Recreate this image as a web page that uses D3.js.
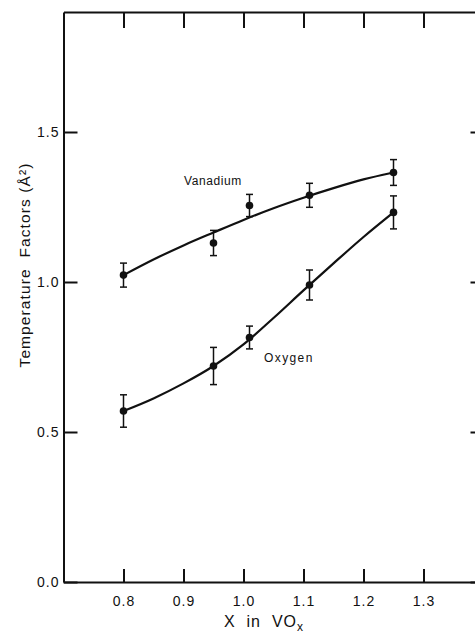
<!DOCTYPE html>
<html>
<head>
<meta charset="utf-8">
<script src="https://cdn.jsdelivr.net/npm/d3@7"></script>
<style>
  html, body { margin: 0; padding: 0; background: #fff; }
  svg { display: block; }
  text { font-family: "Liberation Sans", Arial, sans-serif; fill: #111; white-space: pre; }
</style>
</head>
<body>
<svg id="chart" width="475" height="639"></svg>
<script>
// Composition x in VOx for each measurement
const compositions = [0.80, 0.95, 1.01, 1.11, 1.25];
// Temperature factors (Å²) and their error half-widths
const vanadium    = [1.023, 1.130, 1.255, 1.289, 1.365];
const vanadiumErr = [0.040, 0.042, 0.037, 0.040, 0.043];
const oxygen      = [0.570, 0.720, 0.815, 0.990, 1.232];
const oxygenErr   = [0.054, 0.062, 0.038, 0.050, 0.055];

// Smooth fitted curves through the data
const fitX        = [0.80, 0.85, 0.90, 0.95, 1.00, 1.05, 1.10, 1.15, 1.20, 1.25];
const vanadiumFit = [1.023, 1.075, 1.122, 1.165, 1.207, 1.246, 1.281, 1.313, 1.342, 1.365];
const oxygenFit   = [0.570, 0.612, 0.662, 0.720, 0.792, 0.880, 0.972, 1.062, 1.150, 1.232];

// Axis ticks
const xTicks = [0.8, 0.9, 1.0, 1.1, 1.2, 1.3];
const xTickLabels = ["0.8", "0.9", "1.0", "1.1", "1.2", "1.3"];
const yTicks = [0.0, 0.5, 1.0, 1.5];
const yTickLabels = ["0.0", "0.5", "1.0", "1.5"];

const svg = d3.select("#chart");

const x = d3.scaleLinear().domain([0.7, 1.4]).range([63.5, 483.5]);
const y = d3.scaleLinear().domain([0, 1.9]).range([582, 12]);

const axisStroke = 2;

// Bottom axis with inward ticks
const gx = svg.append("g").attr("transform", `translate(0,${y(0)})`)
  .call(d3.axisBottom(x).tickValues(xTicks)
    .tickFormat((d, i) => xTickLabels[i])
    .tickSizeInner(-13).tickSizeOuter(0).tickPadding(14));
// Top axis, ticks only
const gxt = svg.append("g").attr("transform", `translate(0,${y(1.9)})`)
  .call(d3.axisTop(x).tickValues(xTicks).tickFormat("")
    .tickSizeInner(-16).tickSizeOuter(0));
// Left axis
const gy = svg.append("g").attr("transform", `translate(${x(0.7)},0)`)
  .call(d3.axisLeft(y).tickValues(yTicks)
    .tickFormat((d, i) => yTickLabels[i])
    .tickSizeInner(-14).tickSizeOuter(0).tickPadding(4));
// Right axis, ticks only
const gyr = svg.append("g").attr("transform", `translate(${x(1.4)},0)`)
  .call(d3.axisRight(y).tickValues(yTicks).tickFormat("")
    .tickSizeInner(-13).tickSizeOuter(0));

[gx, gxt, gy, gyr].forEach(g => {
  g.select(".domain").attr("stroke", "#111").attr("stroke-width", axisStroke);
  g.selectAll(".tick line").attr("stroke", "#111").attr("stroke-width", 2);
  g.selectAll(".tick text")
    .style("font-family", "'Liberation Sans', Arial, sans-serif")
    .style("font-size", "14px").style("letter-spacing", "1px")
    .attr("fill", "#111");
});

// Axis titles
const xt = svg.append("text")
  .attr("x", 264).attr("y", 627)
  .attr("text-anchor", "middle")
  .style("font-size", "16px").style("letter-spacing", "1px");
xt.append("tspan").text("X  in  VO");
xt.append("tspan").attr("dy", 4).style("font-size", "12px").text("x");

svg.append("text")
  .attr("transform", "translate(30,265) rotate(-90)")
  .attr("text-anchor", "middle")
  .style("font-size", "15.5px").style("letter-spacing", "1.1px")
  .text("Temperature  Factors (Å²)");

// Fitted curves
const line = d3.line()
  .x(d => x(d[0])).y(d => y(d[1]))
  .curve(d3.curveMonotoneX);

[vanadiumFit, oxygenFit].forEach(fit => {
  svg.append("path")
    .datum(fitX.map((v, i) => [v, fit[i]]))
    .attr("d", line)
    .attr("fill", "none").attr("stroke", "#111").attr("stroke-width", 2.2);
});

// Error bars and points
function drawSeries(values, errs) {
  const data = compositions.map((c, i) => ({ c, v: values[i], e: errs[i] }));
  const g = svg.append("g");
  const cap = 3.5;
  g.selectAll(".eb").data(data).enter().append("line")
    .attr("x1", d => x(d.c)).attr("x2", d => x(d.c))
    .attr("y1", d => y(d.v + d.e)).attr("y2", d => y(d.v - d.e))
    .attr("stroke", "#111").attr("stroke-width", 1.5);
  g.selectAll(".capt").data(data).enter().append("line")
    .attr("x1", d => x(d.c) - cap).attr("x2", d => x(d.c) + cap)
    .attr("y1", d => y(d.v + d.e)).attr("y2", d => y(d.v + d.e))
    .attr("stroke", "#111").attr("stroke-width", 1.5);
  g.selectAll(".capb").data(data).enter().append("line")
    .attr("x1", d => x(d.c) - cap).attr("x2", d => x(d.c) + cap)
    .attr("y1", d => y(d.v - d.e)).attr("y2", d => y(d.v - d.e))
    .attr("stroke", "#111").attr("stroke-width", 1.5);
  g.selectAll("circle").data(data).enter().append("circle")
    .attr("cx", d => x(d.c)).attr("cy", d => y(d.v)).attr("r", 3.8)
    .attr("fill", "#111");
}
drawSeries(vanadium, vanadiumErr);
drawSeries(oxygen, oxygenErr);

// Series labels
svg.append("text").attr("x", 184).attr("y", 185)
  .style("font-size", "12px").style("letter-spacing", "0.6px")
  .text("Vanadium");
svg.append("text").attr("x", 264).attr("y", 362)
  .style("font-size", "12px").style("letter-spacing", "1.4px")
  .text("Oxygen");
</script>
</body>
</html>
